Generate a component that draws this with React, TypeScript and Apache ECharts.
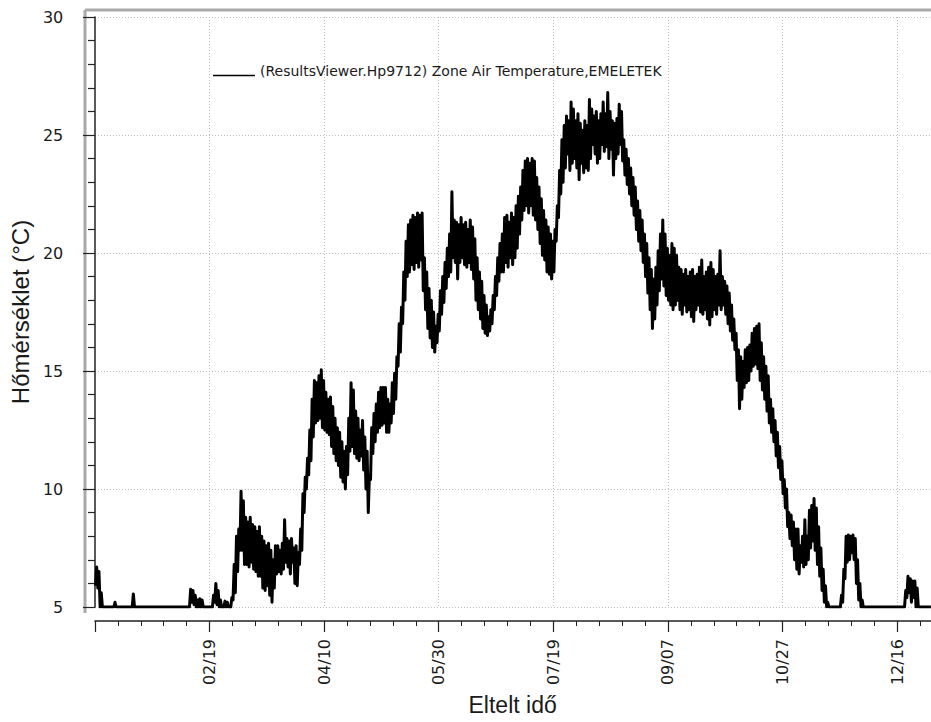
import React, { useEffect, useRef } from "react";
import * as echarts from "echarts";

// Daily minimum / maximum zone air temperature (°C), one entry per day of the year.
const DAY_LOWS: number[] = [
  5.9, 5.8, 5.0, 5.0, 5.0, 5.0, 5.0, 5.0, 5.0, 5.0,
  5.0, 5.0, 5.0, 5.0, 5.0, 5.0, 5.0, 5.0, 5.0, 5.0,
  5.0, 5.0, 5.0, 5.0, 5.0, 5.0, 5.0, 5.0, 5.0, 5.0,
  5.0, 5.0, 5.0, 5.0, 5.0, 5.0, 5.0, 5.0, 5.0, 5.0,
  5.0, 5.0, 5.2, 5.1, 5.0, 5.0, 5.0, 5.0, 5.0, 5.0,
  5.0, 5.0, 5.2, 5.1, 5.0, 5.0, 5.0, 5.0, 5.0, 5.0,
  5.3, 5.6, 6.5, 7.4, 7.4, 6.8, 6.8, 6.7, 6.9, 6.6,
  6.5, 6.3, 6.3, 5.8, 5.7, 5.9, 5.5, 5.2, 5.8, 6.4,
  6.5, 6.4, 6.6, 6.9, 6.7, 6.4, 6.9, 6.0, 5.9, 6.8,
  7.4, 9.0, 10.0, 10.6, 11.2, 12.2, 12.8, 12.9, 13.0, 12.6,
  12.5, 12.4, 12.3, 11.8, 11.5, 11.2, 11.0, 10.5, 10.3, 10.0,
  10.6, 11.6, 11.8, 11.5, 11.3, 11.2, 11.4, 10.8, 10.0, 9.0,
  10.4, 11.5, 12.0, 12.4, 12.6, 12.7, 12.8, 12.4, 12.4, 12.8,
  13.2, 13.8, 15.2, 15.8, 17.0, 18.0, 19.0, 19.2, 19.5, 19.3,
  19.6, 19.4, 19.7, 18.4, 17.6, 16.8, 16.4, 16.0, 15.8, 16.2,
  16.7, 17.4, 17.9, 18.5, 19.0, 19.2, 19.8, 19.6, 18.9, 19.6,
  19.8, 19.5, 19.4, 19.6, 19.3, 18.9, 18.0, 17.6, 17.2, 16.8,
  16.6, 16.5, 16.7, 17.0, 17.6, 18.2, 18.8, 19.2, 19.2, 19.6,
  19.4, 19.8, 19.5, 19.8, 20.2, 20.8, 21.4, 21.8, 22.0, 21.7,
  22.0, 21.6, 21.4, 21.0, 20.4, 19.9, 19.7, 19.2, 19.1, 18.9,
  19.2, 20.5, 21.5, 22.5, 23.0, 23.6, 24.2, 23.5, 23.8, 24.0,
  23.6, 23.1, 23.8, 23.4, 23.6, 23.5, 24.0, 24.6, 24.2, 23.8,
  24.0, 24.6, 24.3, 24.5, 24.0, 24.4, 23.3, 24.0, 24.2, 24.6,
  23.9, 23.3, 22.9, 22.5, 22.0, 21.6, 21.0, 20.5, 20.1, 19.6,
  19.0, 18.3, 17.6, 16.8, 17.2, 17.8, 18.4, 18.9, 18.6, 18.2,
  18.0, 17.8, 17.6, 17.8, 18.0, 17.6, 17.4, 17.8, 17.5, 17.6,
  17.3, 17.1, 17.6, 17.8, 17.5, 17.4, 17.6, 17.2, 16.95, 17.3,
  17.6, 17.4, 17.8, 17.6, 17.8, 17.4, 17.0, 16.7, 16.3, 15.9,
  14.6, 13.4, 13.8, 14.3, 14.5, 14.6, 15.0, 15.2, 15.3, 15.1,
  14.6, 14.2, 13.8, 13.3, 12.8, 12.4, 12.0, 11.4, 10.9, 10.4,
  9.8, 9.2, 8.4, 7.9, 7.6, 7.0, 6.6, 6.4, 6.9, 6.7,
  6.8, 7.0, 7.5, 7.8, 7.4, 6.8, 6.3, 5.7, 5.2, 5.0,
  5.0, 5.0, 5.0, 5.0, 5.0, 5.0, 5.2, 6.2, 6.9, 7.0,
  7.3, 7.0, 6.0, 5.3, 5.0, 5.0, 5.0, 5.0, 5.0, 5.0,
  5.0, 5.0, 5.0, 5.0, 5.0, 5.0, 5.0, 5.0, 5.0, 5.0,
  5.0, 5.0, 5.0, 5.0, 5.4, 5.6, 5.2, 5.4, 5.0, 5.0,
  5.0, 5.0, 5.0, 5.0, 5.0,
];

const DAY_HIGHS: number[] = [
  6.7, 6.5, 5.6, 5.0, 5.0, 5.0, 5.0, 5.0, 5.2, 5.0,
  5.0, 5.0, 5.0, 5.0, 5.0, 5.0, 5.55, 5.0, 5.0, 5.0,
  5.0, 5.0, 5.0, 5.0, 5.0, 5.0, 5.0, 5.0, 5.0, 5.0,
  5.0, 5.0, 5.0, 5.0, 5.0, 5.0, 5.0, 5.0, 5.0, 5.0,
  5.0, 5.75, 5.7, 5.5, 5.3, 5.35, 5.3, 5.0, 5.0, 5.0,
  5.0, 5.5, 6.0, 5.7, 5.3, 5.0, 5.25, 5.2, 5.0, 5.4,
  6.8, 8.0, 8.3, 9.9, 9.5, 8.8, 8.6, 8.8, 8.5, 8.4,
  8.2, 8.4, 8.0, 7.8, 7.6, 7.7, 7.4, 7.0, 7.6, 7.6,
  7.4, 7.7, 8.7, 7.9, 7.8, 7.9, 7.5, 7.6, 7.3, 8.3,
  9.8, 10.5, 11.3, 12.5, 13.8, 14.6, 14.5, 14.8, 15.05, 14.6,
  14.1, 13.8, 13.9, 13.5, 13.0, 12.6, 12.4, 12.0, 11.6, 11.8,
  13.0, 14.5, 14.2, 13.3, 13.0, 12.5, 12.9, 12.2, 11.6, 10.6,
  12.6, 13.2, 13.6, 14.1, 14.3, 14.3, 14.3, 13.8, 13.6, 14.5,
  14.9, 15.6, 17.0, 17.7, 19.2, 20.5, 21.2, 21.4, 21.6, 21.5,
  21.7, 21.6, 21.7, 19.8, 19.2, 18.5, 18.0, 17.5, 16.9, 17.4,
  18.4, 19.0, 19.6, 20.2, 20.8, 22.6, 21.4, 21.3, 21.2, 21.5,
  21.2, 21.3, 21.0, 21.4, 21.1, 20.6, 19.8, 19.2, 18.8, 18.2,
  17.8, 17.3, 17.6, 18.2, 19.0, 19.8, 20.4, 20.8, 21.5, 21.6,
  21.3, 21.7, 21.5, 22.0, 22.4, 22.8, 23.5, 23.9, 24.0, 23.8,
  24.0, 23.9, 23.2, 22.8, 22.3, 21.8, 21.4, 21.1, 20.8, 20.5,
  21.0, 22.0, 23.5, 24.8, 25.4, 25.8, 25.6, 26.4, 26.1, 25.6,
  25.9, 25.5, 25.2, 25.6, 25.4, 26.5, 26.1, 25.8, 26.0, 25.6,
  25.9, 26.4, 25.9, 26.8, 26.0, 25.6, 25.5, 25.7, 26.3, 26.0,
  24.8, 24.4, 24.0, 23.6, 23.2, 22.8, 22.2, 21.8, 21.4, 20.8,
  20.4, 19.8, 19.3, 18.9, 19.4, 20.1, 20.8, 21.4, 20.8, 20.2,
  19.9, 20.4, 20.2, 19.9, 19.4, 19.3, 19.1, 19.3, 19.0, 19.2,
  19.3, 19.0, 19.1, 19.4, 19.7, 19.0, 19.2, 19.4, 19.6, 19.3,
  19.0, 19.1, 20.1, 19.0, 18.8, 18.6, 18.3, 17.8, 17.2, 16.6,
  15.9, 15.6, 15.4, 15.9, 16.0, 16.1, 16.6, 16.8, 16.9, 17.0,
  16.2, 15.6, 15.2, 14.8, 13.8, 13.4, 12.9, 12.4, 11.8, 11.2,
  10.4, 10.0, 9.0, 8.9, 8.6, 8.3, 8.3, 7.6, 8.0, 8.7,
  8.0, 9.1, 9.3, 9.6, 9.2, 8.4, 7.5, 6.6, 5.9, 5.2,
  5.0, 5.0, 5.0, 5.0, 5.0, 5.5, 6.6, 8.0, 8.05, 8.0,
  8.05, 7.9, 7.0, 6.0, 5.3, 5.0, 5.0, 5.0, 5.0, 5.0,
  5.0, 5.0, 5.0, 5.0, 5.0, 5.0, 5.0, 5.0, 5.0, 5.0,
  5.0, 5.0, 5.0, 5.7, 6.3, 6.2, 6.1, 6.1, 5.8, 5.0,
  5.0, 5.0, 5.0, 5.0, 5.0,
];

// Labelled ticks on the elapsed-time axis (day of year -> date text).
const TICK_DAYS: number[] = [50, 100, 150, 200, 250, 300, 350];
const TICK_LABELS: string[] = ["02/19", "04/10", "05/30", "07/19", "09/07", "10/27", "12/16"];

const SERIES_NAME = "(ResultsViewer.Hp9712) Zone Air Temperature,EMELETEK";
const X_TITLE = "Eltelt idő";
const Y_TITLE = "Hőmérséklet (°C)";

const W = 931;
const H = 722;
// the chart canvas runs past the visible frame so the time axis can continue off the right edge
const CANVAS_W = 1030;
const PX_PER_DAY = 2.3;
const X_MAX = 400;

export default function App() {
  const ref = useRef<HTMLDivElement>(null);

  useEffect(() => {
    if (!ref.current) return;
    const chart = echarts.init(ref.current, undefined, { renderer: "svg" });

    // each day contributes its low and its high, which builds the dense band
    const points: [number, number][] = [];
    for (let i = 0; i < DAY_LOWS.length; i++) {
      points.push([i + 0.25, DAY_LOWS[i]]);
      points.push([i + 0.75, DAY_HIGHS[i]]);
    }

    const gridLeft = 91.7;
    const gridWidth = X_MAX * PX_PER_DAY;
    const gridTop = 17;
    const gridBottom = H - 607;
    const textColor = "#1a1a1a";
    const gridDash = { type: [1, 2] as number[], color: "#bdbdbd", width: 1 };
    // centre of the x-axis title within the visible frame
    const xTitleCenter = 511;
    const xTitleShift = 2 * (gridLeft + gridWidth / 2 - xTitleCenter);

    chart.setOption({
      animation: false,
      backgroundColor: "#ffffff",
      grid: {
        left: gridLeft,
        top: gridTop,
        bottom: gridBottom,
        width: gridWidth,
        containLabel: false,
      },
      legend: {
        left: 213,
        top: 64,
        padding: 0,
        itemWidth: 42,
        itemHeight: 10.5,
        icon: "path://M0,0 L42,0 Z M0,9 L42,9 L42,10.5 L0,10.5 Z",
        itemStyle: { color: "#000", borderWidth: 0 },
        data: [SERIES_NAME],
        textStyle: {
          fontFamily: "DejaVu Sans",
          fontSize: 14,
          color: textColor,
        },
      },
      xAxis: {
        type: "value",
        min: 0,
        max: X_MAX,
        interval: 50,
        offset: 14,
        axisLine: { show: true, lineStyle: { color: "#222", width: 1.5 } },
        axisTick: { show: true, length: 11, lineStyle: { color: "#222", width: 1.2 } },
        minorTick: { show: true, splitNumber: 5, length: 5, lineStyle: { color: "#222", width: 1 } },
        splitLine: { show: true, showMinLine: false, lineStyle: gridDash },
        axisLabel: {
          rotate: 90,
          margin: 18,
          fontFamily: "DejaVu Sans",
          fontSize: 16,
          color: textColor,
          formatter: (v: number) => {
            const k = TICK_DAYS.indexOf(v);
            return k >= 0 ? TICK_LABELS[k] : "";
          },
        },
        name: X_TITLE,
        nameLocation: "middle",
        nameGap: 72,
        nameTextStyle: {
          fontFamily: "Liberation Sans",
          fontSize: 23,
          color: textColor,
          padding: [0, xTitleShift, 0, 0],
        },
      },
      yAxis: {
        type: "value",
        min: 5,
        max: 30,
        interval: 5,
        offset: gridLeft - 80,
        axisLine: { show: true, lineStyle: { color: "#222", width: 1.5 } },
        axisTick: { show: true, length: 12, lineStyle: { color: "#222", width: 1.2 } },
        minorTick: { show: true, splitNumber: 5, length: 7, lineStyle: { color: "#222", width: 1.2 } },
        splitLine: { show: true, lineStyle: gridDash },
        axisLabel: {
          margin: 20,
          fontFamily: "DejaVu Sans",
          fontSize: 16,
          color: textColor,
        },
        name: Y_TITLE,
        nameLocation: "middle",
        nameGap: 47,
        nameTextStyle: {
          fontFamily: "Liberation Sans",
          fontSize: 24,
          color: textColor,
        },
      },
      graphic: [
        {
          type: "line",
          shape: { x1: 85, y1: 10, x2: 85, y2: 613 },
          style: { stroke: "#a9a9a9", lineWidth: 3 },
          silent: true,
        },
        {
          type: "line",
          shape: { x1: 85, y1: 10, x2: CANVAS_W, y2: 10 },
          style: { stroke: "#a9a9a9", lineWidth: 3 },
          silent: true,
        },
      ],
      series: [
        {
          name: SERIES_NAME,
          type: "line",
          data: points,
          showSymbol: false,
          symbol: "none",
          clip: true,
          lineStyle: { color: "#000000", width: 3, join: "round" },
          itemStyle: { color: "#000000" },
        },
      ],
    });

    return () => chart.dispose();
  }, []);

  return (
    <div
      style={{ position: "absolute", left: 0, top: 0, width: W, height: H, overflow: "hidden", background: "#fff" }}
    >
      <div ref={ref} style={{ width: CANVAS_W, height: H }} />
    </div>
  );
}
